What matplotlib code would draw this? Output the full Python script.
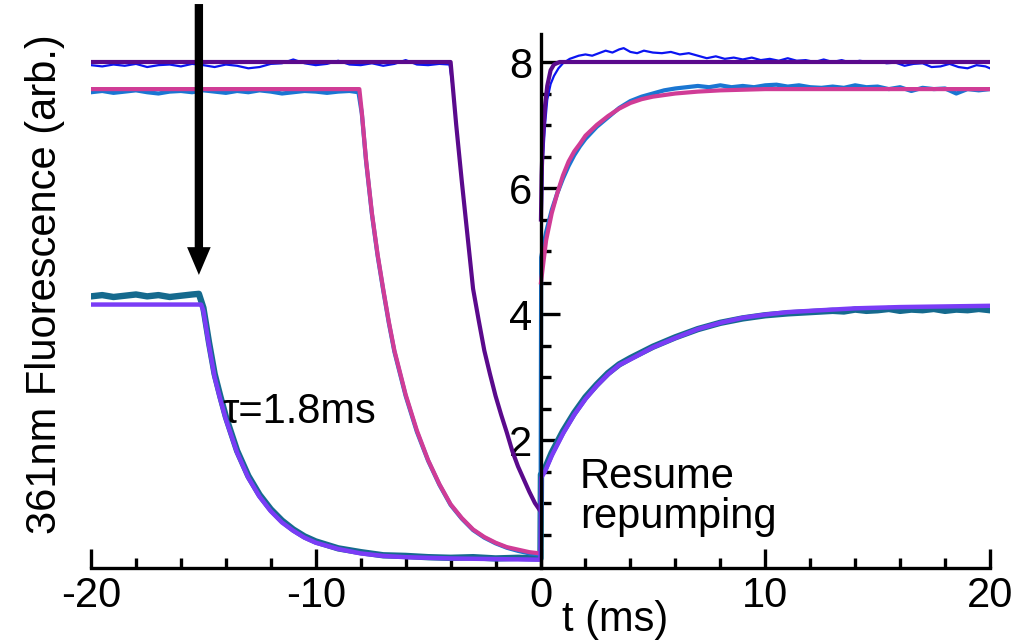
import matplotlib
matplotlib.use("Agg")
import matplotlib.pyplot as plt
from matplotlib.ticker import MultipleLocator, FixedLocator

plt.rcParams['font.family'] = ['Liberation Sans', 'DejaVu Sans']

# ---------------- data ----------------
# Top trace: fit (dark purple) and data (thin blue)
top_fit_pre_t = [-20, -4.0, -3.9, -3.75, -3.5, -3.25, -3.0, -2.75, -2.5, -2.25, -2.0,
                 -1.75, -1.5, -1.25, -1.0, -0.75, -0.5, -0.25, -0.02]
top_fit_pre_y = [8.0, 8.0, 7.6, 7.0, 6.1, 5.25, 4.4, 3.9, 3.42, 3.05, 2.7,
                 2.4, 2.12, 1.82, 1.58, 1.38, 1.18, 1.0, 0.88]
top_fit_post_t = [0.02, 0.05, 0.1, 0.2, 0.3, 0.45, 0.6, 0.85, 20]
top_fit_post_y = [5.5, 6.2, 6.75, 7.3, 7.62, 7.87, 7.96, 8.0, 8.0]

top_data_t = [-20, -19.5, -19, -18.5, -18, -17.5, -17, -16.5, -16, -15.5, -15, -14.5, -14,
              -13.5, -13, -12.5, -12, -11.5, -11, -10.5, -10, -9.5, -9, -8.5, -8, -7.5,
              -7, -6.5, -6, -5.5, -5, -4.5, -4.05,
              -3.9, -3.75, -3.5, -3.25, -3.0, -2.75, -2.5, -2.25, -2.0, -1.75, -1.5,
              -1.25, -1.0, -0.75, -0.5, -0.25, 0.0,
              0.04, 0.1, 0.2, 0.3, 0.45, 0.6, 0.8, 1.0, 1.3, 1.7, 2.0, 2.3, 2.6, 2.9,
              3.2, 3.5, 3.7, 4.0, 4.3, 4.6, 5.0, 5.4, 5.8, 6.2, 6.6, 7.0, 7.4, 7.8, 8.2,
              8.6, 9.0, 9.4, 9.8, 10.2, 10.6, 11.0, 11.4, 11.8, 12.2, 12.6, 13.0, 13.4,
              13.8, 14.2, 14.6, 15.0, 15.4, 15.8, 16.2, 16.6, 17.0, 17.4, 17.8, 18.2,
              18.6, 19.0, 19.4, 19.8, 20]
top_data_y = [7.95, 7.93, 7.96, 7.94, 7.97, 7.92, 7.95, 7.96, 7.93, 7.97, 7.95, 7.92, 7.96,
              7.94, 7.90, 7.92, 7.97, 7.98, 8.04, 7.98, 7.95, 7.97, 8.02, 7.96, 7.95, 7.98,
              7.94, 7.97, 8.03, 7.96, 7.95, 7.97, 7.96,
              7.58, 6.98, 6.1, 5.27, 4.41, 3.9, 3.43, 3.04, 2.71, 2.39, 2.12,
              1.83, 1.57, 1.38, 1.19, 1.0, 0.9,
              5.2, 6.4, 7.0, 7.4, 7.65, 7.78, 7.9, 7.98, 8.05, 8.1, 8.12, 8.1, 8.14, 8.18,
              8.15, 8.2, 8.22, 8.16, 8.14, 8.18, 8.15, 8.14, 8.16, 8.12, 8.14, 8.1, 8.06,
              8.09, 8.05, 8.07, 8.04, 8.07, 8.03, 8.05, 8.02, 8.06, 8.02, 8.03, 8.0, 8.04,
              8.0, 8.03, 7.99, 8.02, 8.0, 8.01, 7.98, 7.99, 7.94, 7.97, 7.98, 7.92, 7.93,
              7.97, 7.92, 7.9, 7.95, 7.93, 7.9]

# Middle trace: fit (pink) and data (blue)
mid_fit_pre_t = [-20, -8.06, -7.95, -7.76, -7.5, -7.25, -7.0, -6.75, -6.5, -6.0, -5.5,
                 -5.0, -4.5, -4.0, -3.5, -3.0, -2.5, -2.0, -1.5, -1.0, -0.5, -0.02]
mid_fit_pre_y = [7.57, 7.57, 7.2, 6.44, 5.6, 4.95, 4.4, 3.88, 3.42, 2.72, 2.15,
                 1.68, 1.3, 0.98, 0.76, 0.58, 0.46, 0.37, 0.3, 0.26, 0.22, 0.2]
mid_fit_post_t = [0.02, 0.25, 0.5, 0.75, 1.0, 1.25, 1.5, 1.75, 2.0, 2.5, 3.0, 3.5, 4.0,
                  4.5, 5.0, 6.0, 7.0, 8.0, 10.0, 20.0]
mid_fit_post_y = [4.5, 5.17, 5.6, 5.92, 6.2, 6.42, 6.58, 6.7, 6.83, 7.0, 7.14, 7.26, 7.35,
                  7.41, 7.45, 7.5, 7.53, 7.55, 7.57, 7.57]

mid_data_t = [-20, -19.5, -19, -18.5, -18, -17.5, -17, -16.5, -16, -15.5, -15, -14.5, -14,
              -13.5, -13, -12.5, -12, -11.5, -11, -10.5, -10, -9.5, -9, -8.5, -8.1,
              -7.95, -7.76, -7.5, -7.25, -7.0, -6.75, -6.5, -6.0, -5.5, -5.0, -4.5, -4.0,
              -3.5, -3.0, -2.5, -2.0, -1.5, -1.0, -0.5, 0.0,
              0.03, 0.25, 0.5, 0.75, 1.0, 1.25, 1.5, 1.75, 2.0, 2.5, 3.0, 3.5, 4.0, 4.5,
              5.0, 5.5, 6.0, 6.5, 7.0, 7.5, 8.0, 8.5, 9.0, 9.5, 10.0, 10.5, 11.0, 11.5,
              12.0, 12.5, 13.0, 13.5, 14.0, 14.5, 15.0, 15.5, 16.0, 16.5, 17.0, 17.5,
              18.0, 18.5, 19.0, 19.5, 20]
mid_data_y = [7.52, 7.54, 7.51, 7.53, 7.55, 7.52, 7.5, 7.53, 7.54, 7.52, 7.55, 7.53, 7.51,
              7.54, 7.52, 7.55, 7.53, 7.5, 7.52, 7.54, 7.53, 7.51, 7.53, 7.54, 7.52,
              7.18, 6.42, 5.58, 4.93, 4.38, 3.86, 3.4, 2.7, 2.13, 1.67, 1.29, 0.97,
              0.75, 0.57, 0.45, 0.36, 0.29, 0.24, 0.2, 0.18,
              4.9, 5.3, 5.65, 5.92, 6.15, 6.35, 6.52, 6.66, 6.78, 6.97, 7.12, 7.27, 7.38,
              7.45, 7.5, 7.55, 7.58, 7.6, 7.62, 7.6, 7.63, 7.6, 7.62, 7.6, 7.63, 7.64,
              7.61, 7.63, 7.6, 7.59, 7.61, 7.59, 7.63, 7.6, 7.61, 7.57, 7.6, 7.54, 7.59,
              7.57, 7.58, 7.5, 7.57, 7.55, 7.57]

# Bottom trace: fit (violet) and data (teal)
bot_fit_t = [-20, -15.1, -15.0, -14.75, -14.5, -14.25, -14.0, -13.5, -13.0, -12.5, -12.0,
             -11.5, -11.0, -10.5, -10.0, -9.0, -8.0, -7.0, -6.0, -4.0, -2.0, 0.0,
             0.03, 0.2, 0.5, 1.0, 1.5, 2.0, 2.5, 3.0, 3.5, 4.0, 5.0, 6.0, 7.0, 8.0, 9.0,
             10.0, 11.0, 12.0, 13.0, 14.0, 16.0, 18.0, 20.0]
bot_fit_y = [4.15, 4.15, 4.05, 3.5, 3.0, 2.65, 2.33, 1.8, 1.4, 1.1, 0.87,
             0.69, 0.56, 0.45, 0.37, 0.27, 0.2, 0.16, 0.14, 0.12, 0.11, 0.1,
             1.4, 1.5, 1.75, 2.1, 2.4, 2.65, 2.86, 3.04, 3.19, 3.28, 3.47, 3.62, 3.76,
             3.86, 3.94, 3.99, 4.03, 4.05, 4.07, 4.09, 4.11, 4.12, 4.13]

bot_data_t = [-20, -19.5, -19, -18.5, -18, -17.5, -17, -16.5, -16, -15.5, -15.2,
              -15.0, -14.75, -14.5, -14.25, -14.0, -13.5, -13.0, -12.5, -12.0, -11.5,
              -11.0, -10.5, -10.0, -9.0, -8.0, -7.0, -6.0, -5.0, -4.0, -3.0, -2.0,
              -1.0, 0.0,
              0.02, 0.2, 0.5, 1.0, 1.5, 2.0, 2.5, 3.0, 3.5, 4.0, 5.0, 6.0, 7.0, 8.0, 9.0,
              10.0, 11.0, 12.0, 12.5, 13.0, 13.5, 14.0, 14.5, 15.0, 15.5, 16.0, 16.5,
              17.0, 17.5, 18.0, 18.5, 19.0, 19.5, 20.0]
bot_data_y = [4.28, 4.3, 4.27, 4.29, 4.31, 4.28, 4.3, 4.27, 4.29, 4.31, 4.32,
              4.1, 3.55, 3.05, 2.7, 2.37, 1.83, 1.43, 1.13, 0.9, 0.72,
              0.58, 0.47, 0.39, 0.28, 0.22, 0.17, 0.16, 0.14, 0.13, 0.14, 0.12,
              0.13, 0.12,
              1.45, 1.55, 1.8, 2.14, 2.43, 2.68, 2.88, 3.06, 3.2, 3.3, 3.48, 3.63, 3.76,
              3.86, 3.93, 3.98, 4.01, 4.03, 4.04, 4.05, 4.04, 4.07, 4.05, 4.06, 4.08,
              4.05, 4.07, 4.06, 4.08, 4.05, 4.07, 4.06, 4.08, 4.06]

x_major = [-20, -10, 0, 10, 20]
x_labels = ['-20', '-10', '0', '10', '20']
y_major = [2, 4, 6, 8]
y_labels = ['2', '4', '6', '8']

# ---------------- figure ----------------
W, H = 1018, 642
FS = 30
fig = plt.figure(figsize=(W / 100, H / 100), dpi=100)
ax = fig.add_axes([91 / W, 74 / H, 899 / W, 568 / H])

c_top_data = '#0b14f2'
c_top_fit = '#5a0a8c'
c_mid_data = '#1a76d2'
c_mid_fit = '#d03c96'
c_bot_data = '#156a8e'
c_bot_fit = '#7a3cf6'

ax.plot(top_data_t, top_data_y, color=c_top_data, lw=1.6, zorder=2)
ax.plot(bot_data_t, bot_data_y, color=c_bot_data, lw=4.6, zorder=2)
ax.plot(mid_data_t, mid_data_y, color=c_mid_data, lw=3.0, zorder=3)

ax.plot(top_fit_pre_t, top_fit_pre_y, color=c_top_fit, lw=3.0, zorder=4)
ax.plot(top_fit_post_t, top_fit_post_y, color=c_top_fit, lw=3.0, zorder=4)
ax.plot(mid_fit_pre_t, mid_fit_pre_y, color=c_mid_fit, lw=3.0, zorder=4)
ax.plot(mid_fit_post_t, mid_fit_post_y, color=c_mid_fit, lw=3.0, zorder=4)
ax.plot(bot_fit_t, bot_fit_y, color=c_bot_fit, lw=3.2, zorder=4)

ax.set_xlim(-20, 20)
ax.set_ylim(-2 / 63, 566 / 63)

for s in ('top', 'right'):
    ax.spines[s].set_visible(False)
ax.spines['left'].set_position(('data', 0))
ax.spines['left'].set_bounds(-2 / 63, 8.45)
ax.spines['left'].set_linewidth(2.4)
ax.spines['bottom'].set_linewidth(2.4)
ax.spines['left'].set_zorder(5)

ax.xaxis.set_major_locator(FixedLocator(x_major))
ax.set_xticklabels(x_labels)
ax.xaxis.set_minor_locator(MultipleLocator(2))
ax.yaxis.set_major_locator(FixedLocator(y_major))
ax.set_yticklabels(y_labels)
ax.yaxis.set_minor_locator(FixedLocator([v * 0.5 for v in range(1, 17) if v % 4 != 0]))

ax.tick_params(axis='both', which='major', direction='in', length=14, width=2.4,
               labelsize=FS, color='black')
ax.tick_params(axis='both', which='minor', direction='in', length=7, width=2.4)
ax.tick_params(axis='x', which='major', pad=6)
ax.tick_params(axis='y', which='major', pad=6)

# arrow
ax.annotate('', xy=(-15.2, 4.62), xytext=(-15.2, 8.92),
            arrowprops=dict(arrowstyle='simple,head_length=1.0,head_width=0.85,tail_width=0.3',
                            mutation_scale=20, color='black', lw=0,
                            shrinkA=0, shrinkB=0),
            annotation_clip=False, zorder=6)

# annotations
ax.text(-14.15, 2.27, 'τ=1.8ms', fontsize=FS, ha='left', va='baseline')
ax.text(1.75, 1.24, 'Resume', fontsize=FS, ha='left', va='baseline')
ax.text(1.75, 0.6, 'repumping', fontsize=FS, ha='left', va='baseline')

fig.text(615 / W, 1 - 620 / H, 't (ms)', fontsize=FS, ha='center', va='center')
fig.text(45 / W, 1 - 284 / H, '361nm Fluorescence (arb.)', fontsize=FS,
         ha='center', va='center', rotation=90)

fig.savefig('out.png', dpi=100)
